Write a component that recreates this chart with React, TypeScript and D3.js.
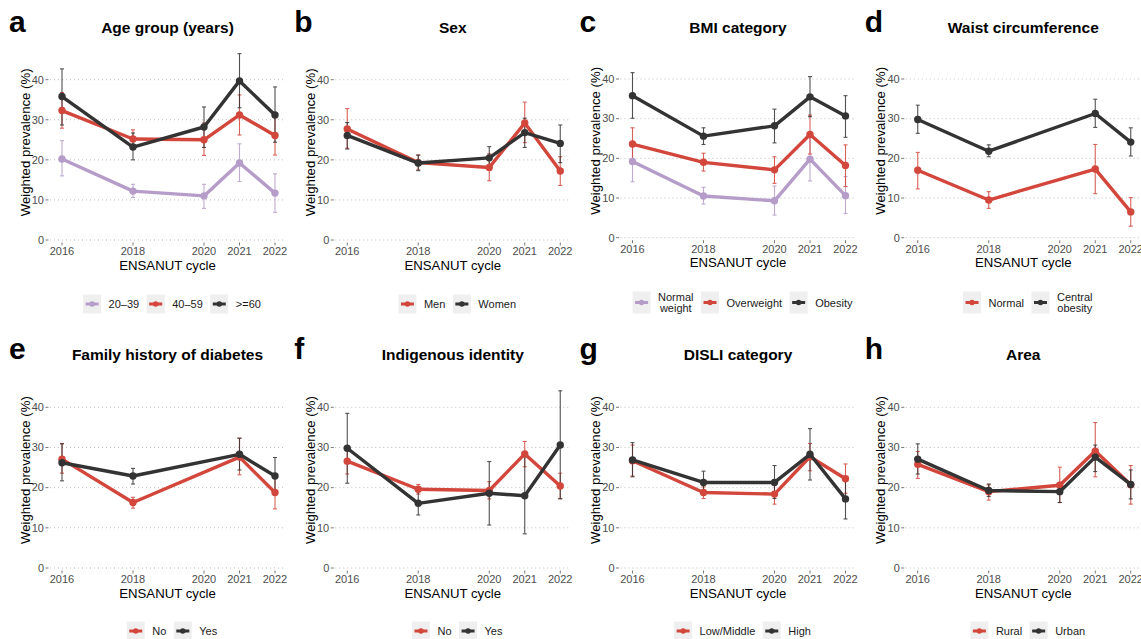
import { useEffect } from 'react'
import { scaleLinear, line } from 'd3'

const years = [2016, 2018, 2020, 2021, 2022]
const yTicks = [0, 10, 20, 30, 40]

const purple = '#b59cc9'
const red = '#d2463c'
const dark = '#333333'
const FONT = "'Liberation Sans', Arial, Helvetica, sans-serif"

// a - age group
const age2039 = [20.2, 12.2, 11.0, 19.2, 11.7]
const age2039Lo = [16.0, 10.6, 7.9, 14.6, 6.9]
const age2039Hi = [24.8, 13.9, 13.9, 24.0, 16.5]
const age4059 = [32.3, 25.2, 25.0, 31.2, 26.1]
const age4059Lo = [27.9, 23.3, 21.1, 26.2, 21.2]
const age4059Hi = [36.8, 27.5, 29.2, 36.2, 30.8]
const age60 = [35.8, 23.2, 28.2, 39.7, 31.2]
const age60Lo = [28.7, 20.0, 23.1, 33.0, 24.4]
const age60Hi = [42.7, 26.7, 33.2, 46.5, 38.2]

// b - sex
const men = [27.7, 19.3, 18.1, 29.2, 17.2]
const menLo = [22.9, 17.5, 14.8, 24.3, 13.6]
const menHi = [32.8, 21.2, 21.5, 34.4, 20.8]
const women = [26.1, 19.2, 20.5, 26.8, 24.1]
const womenLo = [22.7, 17.3, 17.5, 23.1, 19.3]
const womenHi = [29.3, 21.2, 23.3, 30.4, 28.7]

// c - BMI
const bmiNormal = [19.2, 10.5, 9.3, 19.8, 10.6]
const bmiNormalLo = [14.1, 8.5, 5.7, 14.3, 6.1]
const bmiNormalHi = [24.2, 12.7, 13.0, 25.5, 15.4]
const bmiOver = [23.6, 19.0, 17.1, 26.0, 18.2]
const bmiOverLo = [19.7, 16.8, 13.7, 21.1, 12.9]
const bmiOverHi = [27.7, 21.3, 20.4, 30.9, 23.4]
const bmiObese = [35.8, 25.6, 28.2, 35.5, 30.7]
const bmiObeseLo = [30.1, 23.5, 23.9, 30.5, 25.3]
const bmiObeseHi = [41.6, 27.7, 32.4, 40.6, 35.8]

// d - waist circumference (no 2020)
const waistNormal = [17.0, 9.5, null, 17.3, 6.5]
const waistNormalLo = [12.3, 7.4, null, 11.1, 2.9]
const waistNormalHi = [21.5, 11.6, null, 23.5, 10.1]
const waistCentral = [29.8, 21.8, null, 31.3, 24.1]
const waistCentralLo = [26.3, 20.4, null, 27.8, 20.6]
const waistCentralHi = [33.4, 23.4, null, 34.9, 27.7]

// e - family history (no 2020)
const famNo = [27.1, 16.3, null, 27.6, 18.8]
const famNoLo = [23.6, 14.9, null, 23.2, 14.7]
const famNoHi = [31.0, 17.6, null, 32.3, 22.7]
const famYes = [26.2, 22.9, null, 28.3, 22.9]
const famYesLo = [21.7, 20.9, null, 24.4, 18.6]
const famYesHi = [30.9, 24.8, null, 32.3, 27.5]

// f - indigenous identity
const indNo = [26.6, 19.6, 19.3, 28.4, 20.4]
const indNoLo = [23.4, 18.4, 17.2, 25.2, 17.3]
const indNoHi = [30.0, 20.8, 21.5, 31.5, 23.6]
const indYes = [29.8, 16.1, 18.6, 18.0, 30.6]
const indYesLo = [21.1, 13.2, 10.7, 8.5, 17.2]
const indYesHi = [38.5, 19.0, 26.5, 27.7, 44.1]

// g - DISLI
const disliLow = [26.7, 18.8, 18.4, 27.7, 22.2]
const disliLowLo = [22.9, 17.3, 15.9, 24.2, 18.6]
const disliLowHi = [30.6, 20.2, 21.1, 31.0, 25.9]
const disliHigh = [26.9, 21.3, 21.3, 28.3, 17.2]
const disliHighLo = [22.7, 18.6, 17.3, 21.9, 12.2]
const disliHighHi = [31.2, 24.1, 25.5, 34.7, 22.1]

// h - area
const rural = [25.8, 19.0, 20.6, 29.1, 20.7]
const ruralLo = [22.3, 16.9, 16.3, 22.7, 15.9]
const ruralHi = [29.0, 20.7, 25.1, 36.2, 25.5]
const urban = [27.1, 19.3, 19.0, 27.6, 20.8]
const urbanLo = [23.4, 17.8, 16.3, 24.0, 17.2]
const urbanHi = [30.9, 20.9, 21.3, 30.6, 24.4]

const s = (label, color, est, lo, hi) => ({ label, color, est, lo, hi })

const panels = [
  { letter: 'a', title: 'Age group (years)', y0: 240, y40: 79.7, series: [
    s('20–39', purple, age2039, age2039Lo, age2039Hi),
    s('40–59', red, age4059, age4059Lo, age4059Hi),
    s('>=60', dark, age60, age60Lo, age60Hi)] },
  { letter: 'b', title: 'Sex', y0: 240, y40: 79.7, series: [
    s('Men', red, men, menLo, menHi),
    s('Women', dark, women, womenLo, womenHi)] },
  { letter: 'c', title: 'BMI category', y0: 237.7, y40: 79, series: [
    s('Normal\nweight', purple, bmiNormal, bmiNormalLo, bmiNormalHi),
    s('Overweight', red, bmiOver, bmiOverLo, bmiOverHi),
    s('Obesity', dark, bmiObese, bmiObeseLo, bmiObeseHi)] },
  { letter: 'd', title: 'Waist circumference', y0: 237.7, y40: 79, series: [
    s('Normal', red, waistNormal, waistNormalLo, waistNormalHi),
    s('Central\nobesity', dark, waistCentral, waistCentralLo, waistCentralHi)] },
  { letter: 'e', title: 'Family history of diabetes', y0: 241, y40: 80.3, series: [
    s('No', red, famNo, famNoLo, famNoHi),
    s('Yes', dark, famYes, famYesLo, famYesHi)] },
  { letter: 'f', title: 'Indigenous identity', y0: 241, y40: 80.3, series: [
    s('No', red, indNo, indNoLo, indNoHi),
    s('Yes', dark, indYes, indYesLo, indYesHi)] },
  { letter: 'g', title: 'DISLI category', y0: 241, y40: 80.3, series: [
    s('Low/Middle', red, disliLow, disliLowLo, disliLowHi),
    s('High', dark, disliHigh, disliHighLo, disliHighHi)] },
  { letter: 'h', title: 'Area', y0: 241, y40: 80.3, series: [
    s('Rural', red, rural, ruralLo, ruralHi),
    s('Urban', dark, urban, urbanLo, urbanHi)] },
]

let ctx = null
function textWidth(str, size = 11) {
  if (!ctx) ctx = document.createElement('canvas').getContext('2d')
  ctx.font = `${size}px 'Liberation Sans'`
  return ctx.measureText(str).width
}

function Panel({ panel, col, row }) {
  const ox = col * 285.25
  const oy = row * 327
  const { y0, y40 } = panel
  const x = scaleLinear().domain([2016, 2022]).range([ox + 62, ox + 275])
  const y = scaleLinear().domain([0, 40]).range([oy + y0, oy + y40])
  const mid = (y(0) + y(40)) / 2 - 17.5
  const cx = ox + 167.5

  const pts = ser => years
    .map((yr, i) => ({ yr, v: ser.est[i], lo: ser.lo[i], hi: ser.hi[i] }))
    .filter(d => d.v != null)
  const path = line().x(d => x(d.yr)).y(d => y(d.v))

  // legend
  const twoLine = panel.series.some(d => d.label.includes('\n'))
  const keyW = 18
  const keyH = twoLine ? 22 : 19
  const gap = 7.5
  const items = panel.series.map(d => {
    const lines = d.label.split('\n')
    return { ...d, lines, w: Math.max(...lines.map(l => textWidth(l))) }
  })
  const total = items.reduce((a, d) => a + keyW + gap + d.w, 0) + gap * (items.length - 1)
  let lx = ox + 172 - total / 2
  const ly = oy + (twoLine ? 302.5 : 304)
  const legend = items.map(d => {
    const pos = lx
    lx += keyW + gap + d.w + gap
    return { ...d, pos }
  })

  return (
    <g>
      <text x={ox + 9} y={oy + 32} fontSize={30} fontWeight="bold" fontFamily={FONT}>{panel.letter}</text>
      <text x={cx} y={oy + 32.5} fontSize={15.5} fontWeight="bold" textAnchor="middle" fontFamily={FONT}>{panel.title}</text>

      {/* grid + y axis */}
      {yTicks.map(t => (
        <g key={t}>
          <line x1={ox + 50} x2={ox + 285.5} y1={y(t)} y2={y(t)} stroke="#bdbdbd" strokeWidth={1} strokeDasharray="1,3" />
          <line x1={ox + 45.5} x2={ox + 48.5} y1={y(t)} y2={y(t)} stroke="#555" strokeWidth={0.8} />
          <text x={ox + 44} y={y(t) + 3.8} fontSize={11} fill="#4d4d4d" textAnchor="end" fontFamily={FONT}>{t}</text>
        </g>
      ))}
      {/* x axis */}
      {years.map(yr => (
        <g key={yr}>
          <line x1={x(yr)} x2={x(yr)} y1={y(0) + 2.5} y2={y(0) + 5.5} stroke="#555" strokeWidth={0.8} />
          <text x={x(yr)} y={y(0) + 15} fontSize={11} fill="#4d4d4d" textAnchor="middle" fontFamily={FONT}>{yr}</text>
        </g>
      ))}
      <text x={cx} y={y(0) + 29.5} fontSize={13.2} textAnchor="middle" fontFamily={FONT}>ENSANUT cycle</text>
      <text transform={`translate(${ox + 29.5},${mid}) rotate(-90)`} fontSize={13.2} textAnchor="middle" fontFamily={FONT}>Weighted prevalence (%)</text>

      {/* error bars */}
      {panel.series.map(ser => (
        <g key={'e' + ser.label} stroke={ser.color} strokeWidth={1.1} opacity={0.85}>
          {pts(ser).map(d => (
            <g key={d.yr}>
              <line x1={x(d.yr)} x2={x(d.yr)} y1={y(d.lo)} y2={y(d.hi)} />
              <line x1={x(d.yr) - 2} x2={x(d.yr) + 2} y1={y(d.lo)} y2={y(d.lo)} />
              <line x1={x(d.yr) - 2} x2={x(d.yr) + 2} y1={y(d.hi)} y2={y(d.hi)} />
            </g>
          ))}
        </g>
      ))}
      {/* lines + points */}
      {panel.series.map(ser => (
        <g key={'l' + ser.label}>
          <path d={path(pts(ser))} fill="none" stroke={ser.color} strokeWidth={3.4} strokeLinejoin="round" />
          {pts(ser).map(d => (
            <circle key={d.yr} cx={x(d.yr)} cy={y(d.v)} r={3.7} fill={ser.color} />
          ))}
        </g>
      ))}

      {/* legend */}
      {legend.map(d => (
        <g key={'k' + d.label}>
          <rect x={d.pos} y={ly - keyH / 2} width={keyW} height={keyH} fill="#efefef" />
          <line x1={d.pos + 2.5} x2={d.pos + keyW - 2.5} y1={ly} y2={ly} stroke={d.color} strokeWidth={3} />
          <circle cx={d.pos + keyW / 2} cy={ly} r={2.7} fill={d.color} />
          {d.lines.length === 1
            ? <text x={d.pos + keyW + gap} y={ly + 4} fontSize={11} fill="#1a1a1a" fontFamily={FONT}>{d.label}</text>
            : d.lines.map((l, i) => (
              <text key={l} x={d.pos + keyW + gap + d.w / 2} y={ly - 2 + i * 11.5} fontSize={11} fill="#1a1a1a" textAnchor="middle" fontFamily={FONT}>{l}</text>
            ))}
        </g>
      ))}
    </g>
  )
}

export default function App() {
  useEffect(() => { document.body.style.margin = '0' }, [])
  return (
    <svg width={1141} height={639} style={{ position: 'absolute', left: 0, top: 0, background: '#fff' }}>
      {panels.map((p, i) => (
        <Panel key={p.letter} panel={p} col={i % 4} row={Math.floor(i / 4)} />
      ))}
    </svg>
  )
}
